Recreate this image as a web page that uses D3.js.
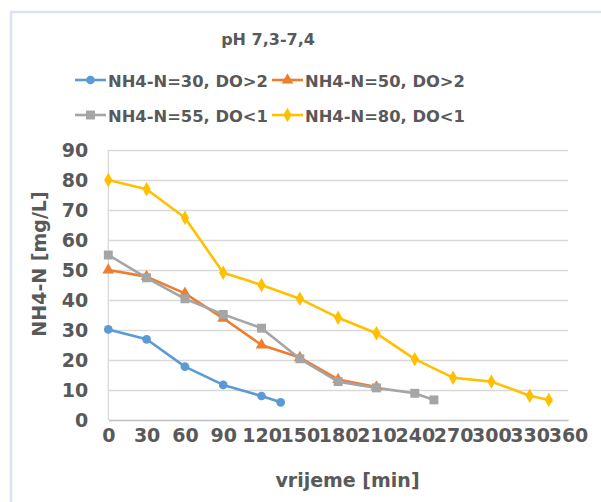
<!DOCTYPE html>
<html><head><meta charset="utf-8">
<script src="https://cdn.jsdelivr.net/npm/d3@7"></script>
<style>body{margin:0;background:#fff;} svg{display:block;}</style>
</head><body>
<script>
const title = "pH 7,3-7,4";
const xTicks = [0,30,60,90,120,150,180,210,240,270,300,330,360];
const yTicks = [0,10,20,30,40,50,60,70,80,90];
const seriesNames = ["NH4-N=30, DO>2","NH4-N=50, DO>2","NH4-N=55, DO<1","NH4-N=80, DO<1"];
const s1x = [0,30,60,90,120,135];
const s1y = [30.2,26.9,17.8,11.7,8.0,5.9];
const s2x = [0,30,60,90,120,150,180,210];
const s2y = [50,47.8,42.2,33.9,25,20.8,13.5,11];
const s3x = [0,30,60,90,120,150,180,210,240,255];
const s3y = [55,47.4,40.4,35.2,30.6,20.4,12.8,10.7,8.9,6.7];
const s4x = [0,30,60,90,120,150,180,210,240,270,300,330,345];
const s4y = [80,76.9,67.4,49.1,45,40.4,34.1,28.9,20.3,14.1,12.8,8.1,6.7];
const colors = ["#5B9BD5","#ED7D31","#A5A5A5","#FFC000"];
const symbols = [d3.symbolCircle,d3.symbolTriangle,d3.symbolSquare,d3.symbolDiamond];
const symSizes = [60,60,80,60];

const W=601,H=502;
const svg=d3.select("body").append("svg").attr("width",W).attr("height",H);
svg.append("rect").attr("x",0).attr("y",0).attr("width",W).attr("height",H).attr("fill","#fff");
svg.append("path").attr("d","M11,502 V12 H601").attr("fill","none").attr("stroke","#D9E2EE").attr("stroke-width",2.5);

const font="'DejaVu Sans', Verdana, sans-serif";
const tc="#595959";
const x=d3.scaleLinear().domain([0,360]).range([108.3,568]);
const y=d3.scaleLinear().domain([0,90]).range([420,150]);

const g=svg.append("g");
g.append("g").attr("transform","translate(108.3,0)")
 .call(d3.axisLeft(y).tickValues(yTicks.slice(1)).tickSize(-(568-108.3)).tickFormat(""))
 .call(a=>a.select(".domain").remove())
 .call(a=>a.selectAll("line").attr("stroke","#D9D9D9").attr("stroke-width",1.3));
g.append("line").attr("x1",108.3).attr("x2",108.3).attr("y1",150).attr("y2",420).attr("stroke","#D9D9D9").attr("stroke-width",1.3);
g.append("g").attr("transform","translate(108.3,0)")
 .call(d3.axisLeft(y).tickValues(yTicks).tickSize(0).tickPadding(20))
 .call(a=>a.select(".domain").remove())
 .call(a=>a.selectAll("text").attr("font-family",font).attr("font-weight","bold").attr("font-size",19).attr("fill",tc));
g.append("g").attr("transform","translate(0,420)")
 .call(d3.axisBottom(x).tickValues(xTicks).tickSize(0).tickPadding(9))
 .call(a=>a.select(".domain").attr("stroke","#BFBFBF").attr("stroke-width",1.3))
 .call(a=>a.selectAll("text").attr("font-family",font).attr("font-weight","bold").attr("font-size",19).attr("fill",tc));

const data=[[s1x,s1y],[s2x,s2y],[s3x,s3y],[s4x,s4y]];
const line=d3.line().x(d=>x(d[0])).y(d=>y(d[1]));
data.forEach(([xs,ys],i)=>{
  const pts=xs.map((v,j)=>[v,ys[j]]);
  g.append("path").attr("d",line(pts)).attr("fill","none").attr("stroke",colors[i]).attr("stroke-width",2.6).attr("stroke-linejoin","round");
  g.selectAll(null).data(pts).enter().append("path")
   .attr("d",d3.symbol().type(symbols[i]).size(symSizes[i]))
   .attr("transform",d=>`translate(${x(d[0])},${y(d[1])})`)
   .attr("fill",colors[i]);
});

svg.append("text").attr("x",268).attr("y",45).attr("text-anchor","middle").attr("font-family",font).attr("font-weight","bold").attr("font-size",16).attr("fill",tc).text(title);

// legend: font sized so the first label spans ~160px as in the reference
const probe=svg.append("text").attr("font-family",font).attr("font-weight","bold").attr("font-size",16).text(seriesNames[0]);
const pw=probe.node().getComputedTextLength();
probe.remove();
const legFs=Math.min(18,Math.max(13,16*160/pw));
const legPos=[[75,80],[272,80],[75,115],[272,115]];
seriesNames.forEach((n,i)=>{
  const [lx,ly]=legPos[i];
  const lg=svg.append("g");
  lg.append("line").attr("x1",lx).attr("x2",lx+31).attr("y1",ly).attr("y2",ly).attr("stroke",colors[i]).attr("stroke-width",2.6);
  lg.append("path").attr("d",d3.symbol().type(symbols[i]).size(symSizes[i])).attr("transform",`translate(${lx+15.5},${ly})`).attr("fill",colors[i]);
  lg.append("text").attr("x",lx+33).attr("y",ly+6.5).attr("font-family",font).attr("font-weight","bold").attr("font-size",legFs).attr("fill",tc).text(n);
});
svg.append("text").attr("x",347.5).attr("y",487).attr("text-anchor","middle").attr("font-family",font).attr("font-weight","bold").attr("font-size",19).attr("fill",tc).text("vrijeme [min]");
svg.append("text").attr("transform","translate(46,264) rotate(-90)").attr("text-anchor","middle").attr("font-family",font).attr("font-weight","bold").attr("font-size",19).attr("fill",tc).text("NH4-N [mg/L]");
</script>
</body></html>
